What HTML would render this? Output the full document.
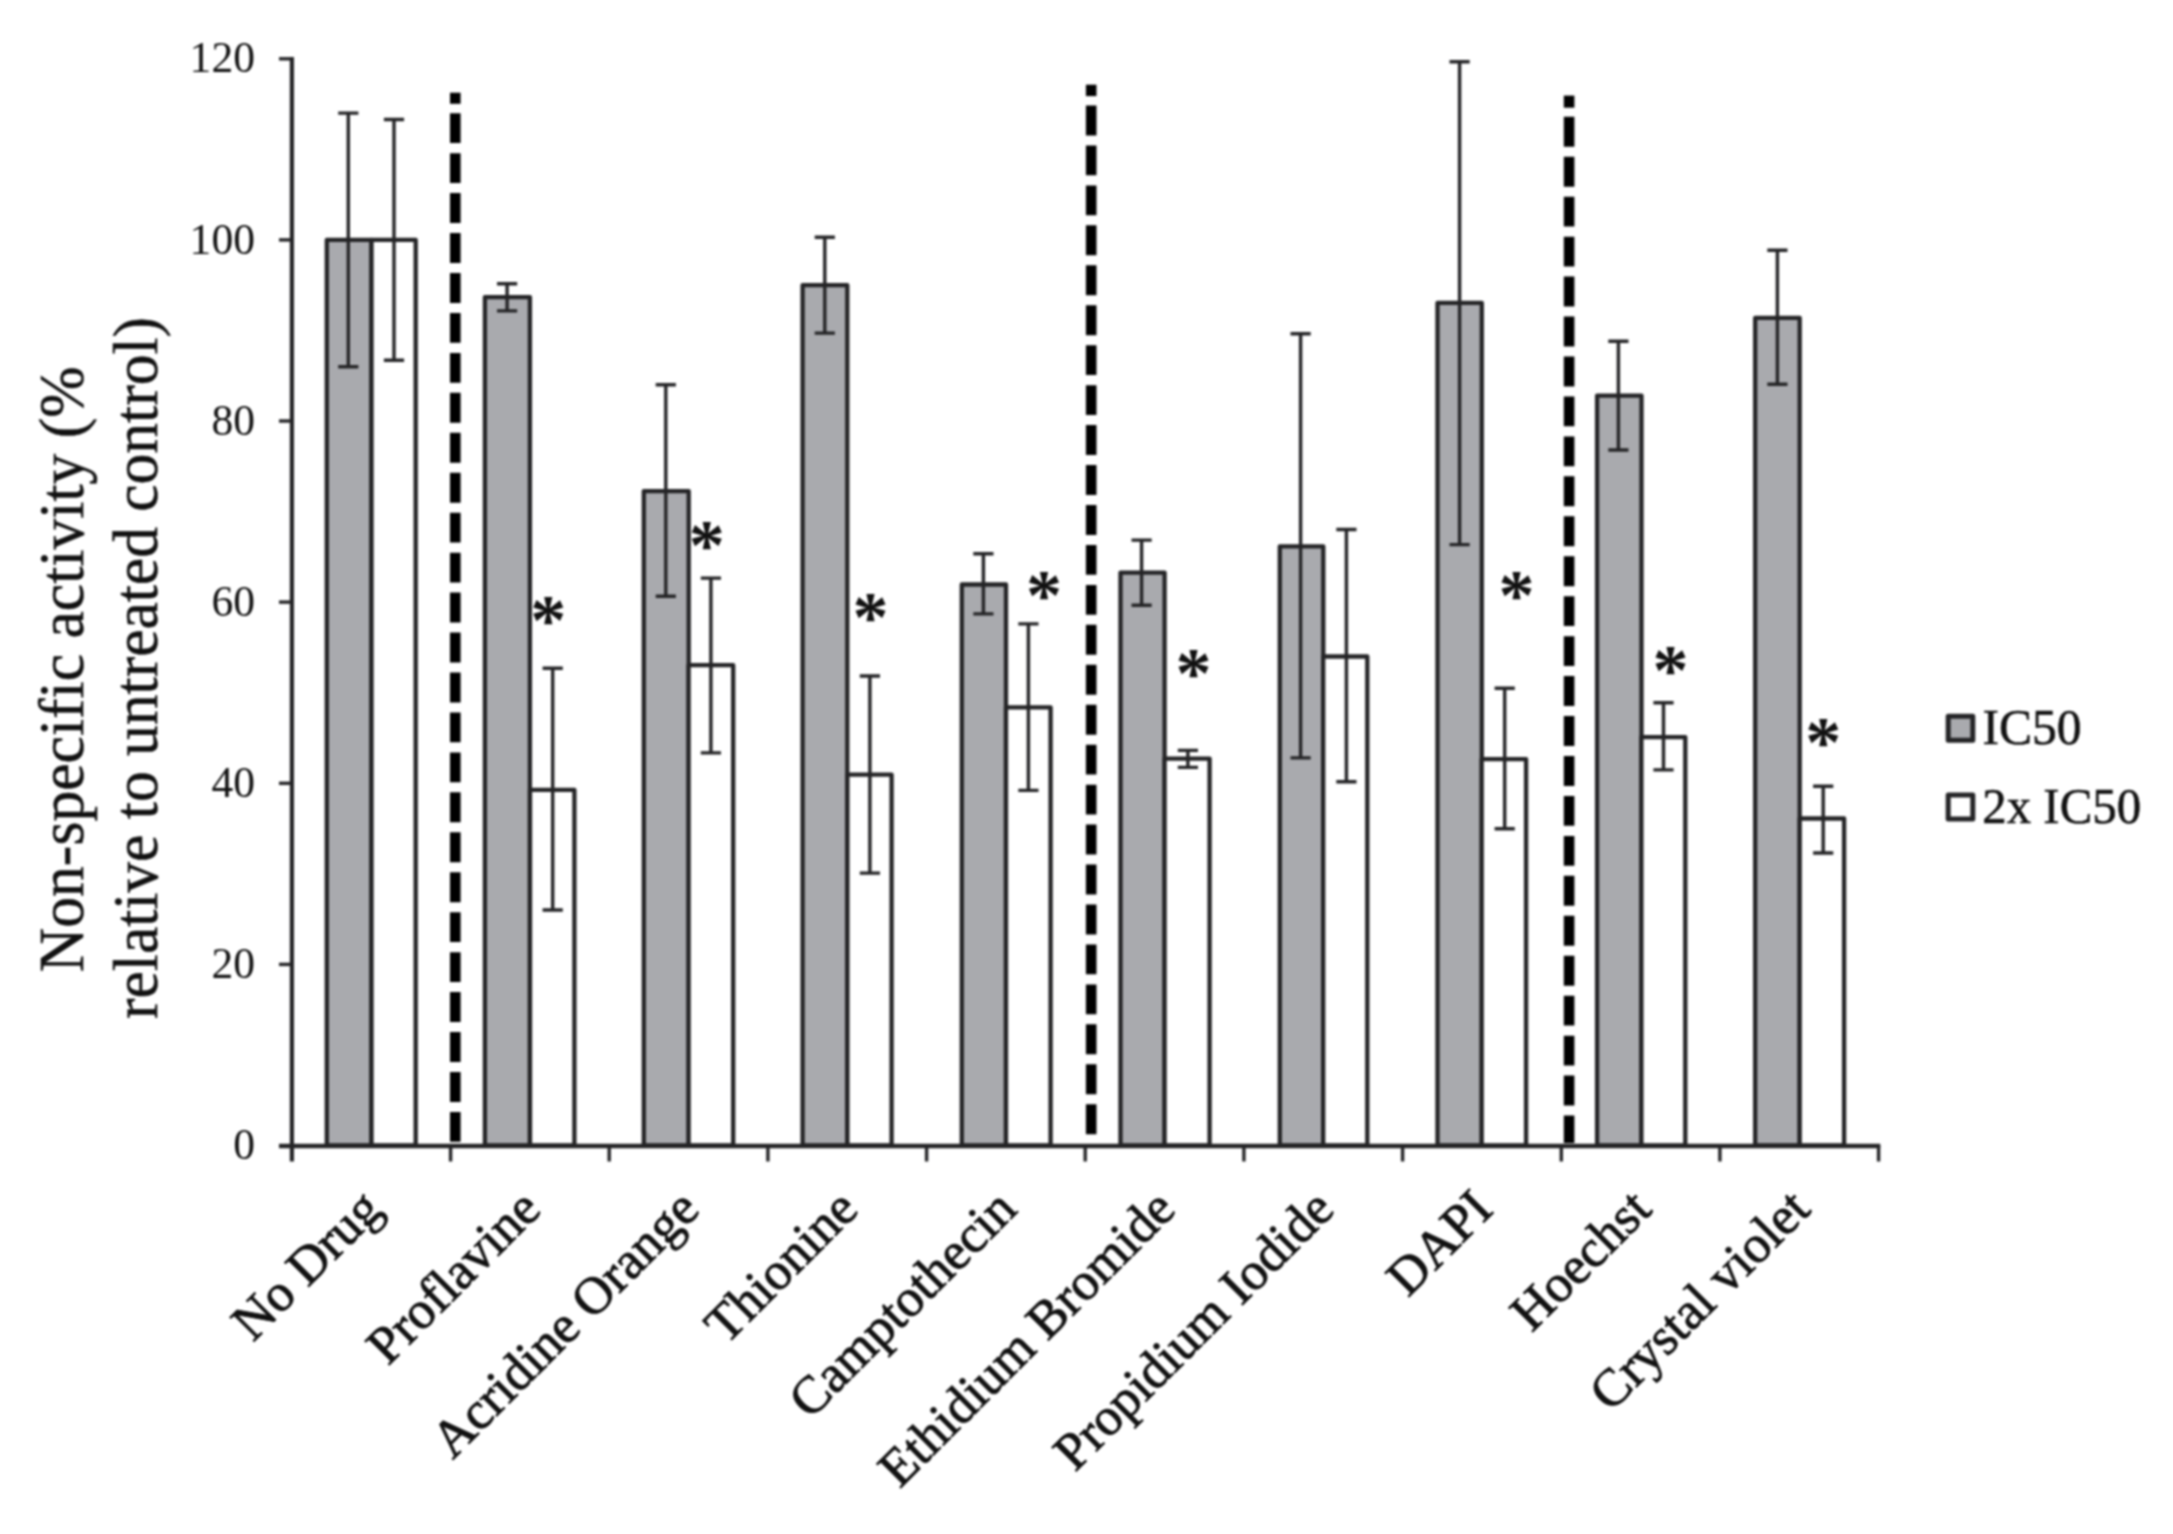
<!DOCTYPE html>
<html lang="en"><head><meta charset="utf-8"><title>Non-specific activity chart</title>
<style>html,body{margin:0;padding:0;background:#fff}body{width:2173px;height:1534px;overflow:hidden}svg{display:block;filter:blur(1.15px)}</style>
</head><body>
<svg width="2173" height="1534" viewBox="0 0 2173 1534">
<rect width="2173" height="1534" fill="#fff"/>
<rect x="326.8" y="239.9" width="44.7" height="905.6" fill="#a9aaae" stroke="#242426" stroke-width="4.3" stroke-linejoin="round"/>
<rect x="371.5" y="239.9" width="44.2" height="905.6" fill="#fff" stroke="#242426" stroke-width="4.3" stroke-linejoin="round"/>
<rect x="484.9" y="297.1" width="45.0" height="848.4" fill="#a9aaae" stroke="#242426" stroke-width="4.3" stroke-linejoin="round"/>
<rect x="530.0" y="789.9" width="44.4" height="355.6" fill="#fff" stroke="#242426" stroke-width="4.3" stroke-linejoin="round"/>
<rect x="643.8" y="491.1" width="44.9" height="654.4" fill="#a9aaae" stroke="#242426" stroke-width="4.3" stroke-linejoin="round"/>
<rect x="688.6" y="665.2" width="44.6" height="480.3" fill="#fff" stroke="#242426" stroke-width="4.3" stroke-linejoin="round"/>
<rect x="802.6" y="285.1" width="44.7" height="860.4" fill="#a9aaae" stroke="#242426" stroke-width="4.3" stroke-linejoin="round"/>
<rect x="847.4" y="774.7" width="44.2" height="370.8" fill="#fff" stroke="#242426" stroke-width="4.3" stroke-linejoin="round"/>
<rect x="961.8" y="584.5" width="44.2" height="561.0" fill="#a9aaae" stroke="#242426" stroke-width="4.3" stroke-linejoin="round"/>
<rect x="1006.0" y="707.3" width="44.6" height="438.2" fill="#fff" stroke="#242426" stroke-width="4.3" stroke-linejoin="round"/>
<rect x="1120.5" y="572.6" width="44.1" height="572.9" fill="#a9aaae" stroke="#242426" stroke-width="4.3" stroke-linejoin="round"/>
<rect x="1164.6" y="758.6" width="45.0" height="386.9" fill="#fff" stroke="#242426" stroke-width="4.3" stroke-linejoin="round"/>
<rect x="1279.8" y="546.3" width="43.5" height="599.2" fill="#a9aaae" stroke="#242426" stroke-width="4.3" stroke-linejoin="round"/>
<rect x="1323.2" y="656.5" width="44.1" height="489.0" fill="#fff" stroke="#242426" stroke-width="4.3" stroke-linejoin="round"/>
<rect x="1437.5" y="302.9" width="44.3" height="842.6" fill="#a9aaae" stroke="#242426" stroke-width="4.3" stroke-linejoin="round"/>
<rect x="1481.7" y="759.1" width="44.4" height="386.4" fill="#fff" stroke="#242426" stroke-width="4.3" stroke-linejoin="round"/>
<rect x="1597.1" y="395.6" width="44.4" height="749.9" fill="#a9aaae" stroke="#242426" stroke-width="4.3" stroke-linejoin="round"/>
<rect x="1641.4" y="737.1" width="43.9" height="408.4" fill="#fff" stroke="#242426" stroke-width="4.3" stroke-linejoin="round"/>
<rect x="1755.2" y="317.9" width="44.5" height="827.6" fill="#a9aaae" stroke="#242426" stroke-width="4.3" stroke-linejoin="round"/>
<rect x="1799.7" y="818.5" width="44.4" height="327.0" fill="#fff" stroke="#242426" stroke-width="4.3" stroke-linejoin="round"/>
<path d="M348.3 113.1V366.7M338.2 113.1H358.4M338.2 366.7H358.4" fill="none" stroke="#242426" stroke-width="3.4"/>
<path d="M394.0 119.5V360.3M383.9 119.5H404.1M383.9 360.3H404.1" fill="none" stroke="#242426" stroke-width="3.4"/>
<path d="M507.1 283.8V310.9M497.0 283.8H517.2M497.0 310.9H517.2" fill="none" stroke="#242426" stroke-width="3.4"/>
<path d="M552.7 668.2V910.0M542.6 668.2H562.8M542.6 910.0H562.8" fill="none" stroke="#242426" stroke-width="3.4"/>
<path d="M665.8 384.7V596.3M655.7 384.7H675.9M655.7 596.3H675.9" fill="none" stroke="#242426" stroke-width="3.4"/>
<path d="M710.9 578.1V752.9M700.8 578.1H721.0M700.8 752.9H721.0" fill="none" stroke="#242426" stroke-width="3.4"/>
<path d="M824.8 237.2V333.1M814.7 237.2H834.9M814.7 333.1H834.9" fill="none" stroke="#242426" stroke-width="3.4"/>
<path d="M869.9 676.0V873.1M859.8 676.0H880.0M859.8 873.1H880.0" fill="none" stroke="#242426" stroke-width="3.4"/>
<path d="M983.4 553.8V613.9M973.3 553.8H993.5M973.3 613.9H993.5" fill="none" stroke="#242426" stroke-width="3.4"/>
<path d="M1028.4 623.9V790.4M1018.3 623.9H1038.5M1018.3 790.4H1038.5" fill="none" stroke="#242426" stroke-width="3.4"/>
<path d="M1141.6 540.1V605.2M1131.5 540.1H1151.7M1131.5 605.2H1151.7" fill="none" stroke="#242426" stroke-width="3.4"/>
<path d="M1187.9 750.4V767.4M1177.8 750.4H1198.0M1177.8 767.4H1198.0" fill="none" stroke="#242426" stroke-width="3.4"/>
<path d="M1300.6 333.7V757.9M1290.5 333.7H1310.7M1290.5 757.9H1310.7" fill="none" stroke="#242426" stroke-width="3.4"/>
<path d="M1346.4 529.5V781.7M1336.3 529.5H1356.5M1336.3 781.7H1356.5" fill="none" stroke="#242426" stroke-width="3.4"/>
<path d="M1459.6 61.8V544.6M1449.5 61.8H1469.7M1449.5 544.6H1469.7" fill="none" stroke="#242426" stroke-width="3.4"/>
<path d="M1504.7 688.3V828.7M1494.6 688.3H1514.8M1494.6 828.7H1514.8" fill="none" stroke="#242426" stroke-width="3.4"/>
<path d="M1618.4 341.2V450.0M1608.3 341.2H1628.5M1608.3 450.0H1628.5" fill="none" stroke="#242426" stroke-width="3.4"/>
<path d="M1663.5 702.8V769.9M1653.4 702.8H1673.6M1653.4 769.9H1673.6" fill="none" stroke="#242426" stroke-width="3.4"/>
<path d="M1777.4 250.3V384.3M1767.3 250.3H1787.5M1767.3 384.3H1787.5" fill="none" stroke="#242426" stroke-width="3.4"/>
<path d="M1823.2 786.2V853.0M1813.1 786.2H1833.3M1813.1 853.0H1833.3" fill="none" stroke="#242426" stroke-width="3.4"/>
<path d="M291.9 57.1V1161.5" stroke="#242426" stroke-width="4.2" fill="none"/>
<path d="M279 1146.0H1880.3" stroke="#242426" stroke-width="4.6" fill="none"/>
<path d="M279 964.4H291.9" stroke="#242426" stroke-width="3.4" fill="none"/>
<path d="M279 783.3H291.9" stroke="#242426" stroke-width="3.4" fill="none"/>
<path d="M279 602.1H291.9" stroke="#242426" stroke-width="3.4" fill="none"/>
<path d="M279 421.0H291.9" stroke="#242426" stroke-width="3.4" fill="none"/>
<path d="M279 239.9H291.9" stroke="#242426" stroke-width="3.4" fill="none"/>
<path d="M279 58.8H291.9" stroke="#242426" stroke-width="3.4" fill="none"/>
<path d="M450.6 1145.5V1161.5" stroke="#242426" stroke-width="3.4" fill="none"/>
<path d="M609.2 1145.5V1161.5" stroke="#242426" stroke-width="3.4" fill="none"/>
<path d="M767.9 1145.5V1161.5" stroke="#242426" stroke-width="3.4" fill="none"/>
<path d="M926.6 1145.5V1161.5" stroke="#242426" stroke-width="3.4" fill="none"/>
<path d="M1085.2 1145.5V1161.5" stroke="#242426" stroke-width="3.4" fill="none"/>
<path d="M1243.9 1145.5V1161.5" stroke="#242426" stroke-width="3.4" fill="none"/>
<path d="M1402.6 1145.5V1161.5" stroke="#242426" stroke-width="3.4" fill="none"/>
<path d="M1561.3 1145.5V1161.5" stroke="#242426" stroke-width="3.4" fill="none"/>
<path d="M1719.9 1145.5V1161.5" stroke="#242426" stroke-width="3.4" fill="none"/>
<path d="M1878.6 1145.5V1161.5" stroke="#242426" stroke-width="3.4" fill="none"/>
<path d="M455.3 92.7V103.8" stroke="#000" stroke-width="10.6" fill="none"/>
<path d="M455.3 113.2V1143.0" stroke="#000" stroke-width="10.6" stroke-dasharray="29.9 10.05" fill="none"/>
<path d="M1091.2 84.7V96.1" stroke="#000" stroke-width="10.6" fill="none"/>
<path d="M1091.2 105.5V1143.0" stroke="#000" stroke-width="10.6" stroke-dasharray="29.9 10.05" fill="none"/>
<path d="M1569.1 95.6V107.7" stroke="#000" stroke-width="10.6" fill="none"/>
<path d="M1569.1 116.8V1143.0" stroke="#000" stroke-width="10.6" stroke-dasharray="29.9 10.05" fill="none"/>
<text id="tk0" x="255" y="1159.1" font-family="'Liberation Serif', serif" font-size="43.6" text-anchor="end" fill="#111">0</text>
<text id="tk20" x="255" y="978.0" font-family="'Liberation Serif', serif" font-size="43.6" text-anchor="end" fill="#111">20</text>
<text id="tk40" x="255" y="796.9" font-family="'Liberation Serif', serif" font-size="43.6" text-anchor="end" fill="#111">40</text>
<text id="tk60" x="255" y="615.7" font-family="'Liberation Serif', serif" font-size="43.6" text-anchor="end" fill="#111">60</text>
<text id="tk80" x="255" y="434.6" font-family="'Liberation Serif', serif" font-size="43.6" text-anchor="end" fill="#111">80</text>
<text id="tk100" x="255" y="253.5" font-family="'Liberation Serif', serif" font-size="43.6" text-anchor="end" fill="#111">100</text>
<text id="tk120" x="255" y="72.4" font-family="'Liberation Serif', serif" font-size="43.6" text-anchor="end" fill="#111">120</text>
<text x="548.2" y="643.6" font-family="'Liberation Serif', serif" font-size="72" font-weight="bold" text-anchor="middle" fill="#111">*</text>
<text x="706.7" y="569.4" font-family="'Liberation Serif', serif" font-size="72" font-weight="bold" text-anchor="middle" fill="#111">*</text>
<text x="870.6" y="641.1" font-family="'Liberation Serif', serif" font-size="72" font-weight="bold" text-anchor="middle" fill="#111">*</text>
<text x="1044.0" y="618.6" font-family="'Liberation Serif', serif" font-size="72" font-weight="bold" text-anchor="middle" fill="#111">*</text>
<text x="1193.4" y="696.9" font-family="'Liberation Serif', serif" font-size="72" font-weight="bold" text-anchor="middle" fill="#111">*</text>
<text x="1516.5" y="618.6" font-family="'Liberation Serif', serif" font-size="72" font-weight="bold" text-anchor="middle" fill="#111">*</text>
<text x="1670.5" y="694.4" font-family="'Liberation Serif', serif" font-size="72" font-weight="bold" text-anchor="middle" fill="#111">*</text>
<text x="1823.2" y="766.3" font-family="'Liberation Serif', serif" font-size="72" font-weight="bold" text-anchor="middle" fill="#111">*</text>
<text id="xl0" transform="translate(384.2 1211.5) rotate(-45)" font-family="'Liberation Serif', serif" font-size="52.6" text-anchor="end" fill="#111" stroke="#111" stroke-width="0.9">No Drug</text>
<text id="xl1" transform="translate(542.9 1211.5) rotate(-45)" font-family="'Liberation Serif', serif" font-size="52.6" text-anchor="end" fill="#111" stroke="#111" stroke-width="0.9">Proflavine</text>
<text id="xl2" transform="translate(701.6 1211.5) rotate(-45)" font-family="'Liberation Serif', serif" font-size="52.6" text-anchor="end" fill="#111" stroke="#111" stroke-width="0.9">Acridine Orange</text>
<text id="xl3" transform="translate(860.2 1211.5) rotate(-45)" font-family="'Liberation Serif', serif" font-size="52.6" text-anchor="end" fill="#111" stroke="#111" stroke-width="0.9">Thionine</text>
<text id="xl4" transform="translate(1018.9 1211.5) rotate(-45)" font-family="'Liberation Serif', serif" font-size="52.6" text-anchor="end" fill="#111" stroke="#111" stroke-width="0.9">Camptothecin</text>
<text id="xl5" transform="translate(1177.6 1211.5) rotate(-45)" font-family="'Liberation Serif', serif" font-size="52.6" text-anchor="end" fill="#111" stroke="#111" stroke-width="0.9">Ethidium Bromide</text>
<text id="xl6" transform="translate(1336.3 1211.5) rotate(-45)" font-family="'Liberation Serif', serif" font-size="52.6" text-anchor="end" fill="#111" stroke="#111" stroke-width="0.9">Propidium Iodide</text>
<text id="xl7" transform="translate(1494.9 1211.5) rotate(-45)" font-family="'Liberation Serif', serif" font-size="52.6" text-anchor="end" fill="#111" stroke="#111" stroke-width="0.9">DAPI</text>
<text id="xl8" transform="translate(1653.6 1211.5) rotate(-45)" font-family="'Liberation Serif', serif" font-size="52.6" text-anchor="end" fill="#111" stroke="#111" stroke-width="0.9">Hoechst</text>
<text id="xl9" transform="translate(1812.3 1211.5) rotate(-45)" font-family="'Liberation Serif', serif" font-size="52.6" text-anchor="end" fill="#111" stroke="#111" stroke-width="0.9">Crystal violet</text>
<text id="yt1" transform="translate(83 669.3) rotate(-90)" font-family="'Liberation Serif', serif" font-size="64" text-anchor="middle" textLength="606" lengthAdjust="spacingAndGlyphs" fill="#111" stroke="#111" stroke-width="0.5">Non-specific activity (%</text>
<text id="yt2" transform="translate(156.5 668) rotate(-90)" font-family="'Liberation Serif', serif" font-size="64" text-anchor="middle" textLength="702" lengthAdjust="spacingAndGlyphs" fill="#111" stroke="#111" stroke-width="0.5">relative to untreated control)</text>
<rect x="1948.2" y="716.3" width="24.6" height="24" fill="#a9aaae" stroke="#242426" stroke-width="5" stroke-linejoin="round"/>
<rect x="1948.2" y="795" width="24.6" height="24" fill="#fff" stroke="#242426" stroke-width="5" stroke-linejoin="round"/>
<text id="lg1" x="1982.6" y="744.4" font-family="'Liberation Serif', serif" font-size="51" fill="#111" stroke="#111" stroke-width="0.6" textLength="99" lengthAdjust="spacingAndGlyphs">IC50</text>
<text id="lg2" x="1982.3" y="822.8" font-family="'Liberation Serif', serif" font-size="51" fill="#111" stroke="#111" stroke-width="0.6" textLength="158.8" lengthAdjust="spacingAndGlyphs">2x IC50</text>
</svg>
</body></html>
